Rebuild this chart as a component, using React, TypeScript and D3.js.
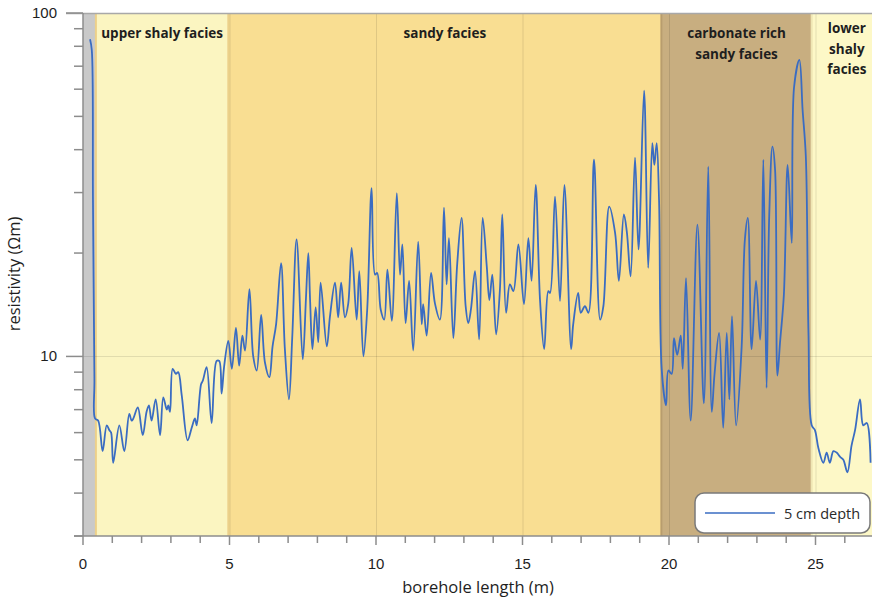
import React, { useEffect, useRef } from 'react';
import * as d3 from 'd3';

const depth = [
  0.24, 0.3, 0.34, 0.39, 0.41, 0.52, 0.67, 0.81, 0.9, 0.96, 1.03, 1.24, 1.41, 1.58, 1.66, 1.72, 1.87, 2.04, 2.17, 2.25,
  2.34, 2.48, 2.63, 2.74, 2.86, 2.91, 2.97, 3.06, 3.17, 3.25, 3.37, 3.57, 3.71, 3.82, 3.88, 4.03, 4.09, 4.22, 4.39, 4.56,
  4.65, 4.73, 4.82, 4.96, 5.08, 5.22, 5.33, 5.44, 5.53, 5.68, 5.81, 5.93, 6.08, 6.21, 6.36, 6.47, 6.59, 6.76, 6.89, 7.03,
  7.14, 7.29, 7.5, 7.61, 7.69, 7.75, 7.83, 7.94, 8.03, 8.11, 8.32, 8.43, 8.6, 8.71, 8.81, 8.94, 9.05, 9.17, 9.34, 9.43,
  9.57, 9.7, 9.85, 9.97, 10.04, 10.16, 10.28, 10.39, 10.54, 10.71, 10.82, 10.9, 11.01, 11.13, 11.27, 11.44, 11.56, 11.61, 11.73, 11.88,
  12.01, 12.18, 12.32, 12.41, 12.49, 12.64, 12.77, 12.92, 13.06, 13.15, 13.24, 13.38, 13.52, 13.64, 13.78, 13.87, 13.97, 14.1, 14.23, 14.31,
  14.44, 14.57, 14.69, 14.86, 15.05, 15.2, 15.31, 15.45, 15.6, 15.74, 15.88, 15.94, 16.11, 16.28, 16.43, 16.66, 16.73, 16.9, 16.99, 17.13,
  17.25, 17.44, 17.65, 17.76, 17.96, 18.16, 18.29, 18.46, 18.56, 18.69, 18.84, 18.96, 19.15, 19.29, 19.43, 19.5, 19.58, 19.66, 19.75, 19.9,
  19.98, 20.09, 20.17, 20.28, 20.4, 20.47, 20.58, 20.74, 20.97, 21.19, 21.34, 21.46, 21.55, 21.71, 21.85, 21.97, 22.06, 22.15, 22.29, 22.48,
  22.59, 22.69, 22.82, 22.97, 23.11, 23.22, 23.33, 23.42, 23.53, 23.62, 23.7, 23.79, 23.92, 24.05, 24.19, 24.27, 24.45, 24.56, 24.67, 24.76,
  24.87, 24.98, 25.1, 25.27, 25.38, 25.49, 25.61, 25.72, 25.84, 25.95, 26.09, 26.23, 26.35, 26.52, 26.63, 26.75, 26.88,
];
const resistivity = [
  83.9, 78, 28.6, 8.6, 6.6, 6.5, 5.3, 6.3, 6.1, 6.0, 4.9, 6.3, 5.3, 6.8, 6.5, 6.6, 7.1, 5.9, 6.9, 7.2,
  6.5, 7.5, 5.9, 7.6, 7.0, 7.2, 6.9, 9.2, 8.9, 9.0, 7.7, 5.7, 6.2, 6.6, 6.3, 8.3, 8.5, 9.3, 6.4, 9.7,
  9.7, 7.8, 9.4, 11.1, 9.2, 12.1, 9.4, 11.5, 10.4, 15.7, 10.0, 9.1, 13.2, 9.6, 8.7, 10.7, 12.4, 18.7, 10.5, 7.5,
  11.3, 21.9, 9.8, 14.8, 20.0, 14.6, 10.5, 13.9, 11.0, 16.4, 10.7, 13.1, 16.4, 13.0, 16.4, 13.0, 14.2, 20.7, 12.8, 17.7,
  10.0, 13.7, 30.9, 17.3, 17.5, 13.7, 12.8, 17.9, 12.7, 29.9, 17.3, 21.2, 12.5, 16.6, 10.4, 21.6, 12.4, 14.2, 11.5, 17.5,
  14.3, 12.8, 27.1, 16.2, 22.1, 11.3, 18.5, 25.3, 14.0, 12.5, 13.7, 17.7, 11.2, 25.3, 18.3, 14.6, 17.3, 11.6, 15.7, 25.9,
  13.4, 16.2, 15.5, 21.2, 14.2, 22.1, 16.6, 31.6, 14.5, 10.5, 15.5, 15.3, 29.2, 14.5, 31.6, 10.5, 12.4, 15.3, 13.4, 14.0,
  13.4, 37.4, 12.8, 14.0, 27.3, 22.9, 16.6, 25.9, 23.1, 17.1, 37.9, 20.5, 59.4, 18.1, 41.8, 36.1, 41.8, 28.6, 9.2, 7.2,
  9.1, 8.9, 11.3, 10.1, 11.5, 9.2, 16.9, 6.5, 24.2, 7.3, 35.7, 6.9, 8.8, 11.7, 6.2, 11.7, 7.5, 13.1, 6.3, 10.7,
  21.9, 25.3, 10.5, 16.6, 11.2, 37.4, 8.1, 25.6, 40.8, 35.0, 8.8, 11.0, 15.1, 36.1, 21.4, 61.0, 73.0, 52.2, 38.2, 11.7,
  6.3, 6.1, 5.4, 4.9, 5.25, 4.9, 5.3, 5.25, 5.1, 5.0, 4.6, 5.5, 6.1, 7.5, 6.3, 6.4, 4.9,
];

const faciesNames = ['', 'upper shaly facies', 'sandy facies', 'carbonate rich|sandy facies', 'lower|shaly|facies'];
const faciesFrom = [0, 0.44, 4.96, 19.74, 24.87];
const faciesTo = [0.44, 4.96, 19.74, 24.87, 27.2];

const xTickValues = [0, 5, 10, 15, 20, 25];
const yTickValues = [10, 100];
const seriesName = '5 cm depth';

const faciesColors = ['#c9c9c9', '#fbf5c1', '#f9de92', '#c8ae80', '#fdf8c7'];
const lineColor = '#3a6cc2';
const axisColor = '#8c8c8c';

const W = 872;
const H = 601;
const margin = { left: 83, top: 13, bottom: 65 };

export default function App() {
  const ref = useRef<SVGSVGElement>(null);

  useEffect(() => {
    document.body.style.margin = '0';
    document.body.style.overflow = 'hidden';

    const svg = d3.select(ref.current);
    svg.selectAll('*').remove();

    const bottom = H - margin.bottom;
    const x = d3.scaleLinear().domain([0, 27]).range([margin.left, margin.left + 27 * 29.3]);
    const y = d3.scaleLog().domain([3, 100]).range([bottom, margin.top]);

    // facies bands
    const bands = svg.append('g');
    faciesNames.forEach((name, i) => {
      bands.append('rect')
        .attr('x', x(faciesFrom[i]))
        .attr('y', margin.top)
        .attr('width', x(faciesTo[i]) - x(faciesFrom[i]))
        .attr('height', bottom - margin.top)
        .attr('fill', faciesColors[i]);
      if (i > 0) {
        bands.append('line')
          .attr('x1', x(faciesFrom[i])).attr('x2', x(faciesFrom[i]))
          .attr('y1', margin.top).attr('y2', bottom)
          .attr('stroke', i === 4 ? '#efe6b4' : i === 3 ? '#b89d6e' : '#ecd08a')
          .attr('stroke-width', 2);
      }
    });

    // grid lines
    const grid = svg.append('g').attr('stroke', 'rgba(0,0,0,0.1)').attr('stroke-width', 1);
    xTickValues.filter(d => d > 0).forEach(d => {
      grid.append('line')
        .attr('x1', x(d) + 0.5).attr('x2', x(d) + 0.5)
        .attr('y1', margin.top).attr('y2', bottom);
    });
    grid.append('line')
      .attr('x1', margin.left).attr('x2', W)
      .attr('y1', Math.round(y(10)) + 0.5).attr('y2', Math.round(y(10)) + 0.5);

    // top border
    svg.append('line')
      .attr('x1', 66).attr('x2', W)
      .attr('y1', margin.top + 0.5).attr('y2', margin.top + 0.5)
      .attr('stroke', '#a8a8a8').attr('stroke-width', 1.5);

    // facies labels
    const labels = svg.append('g')
      .attr('font-family', '"Open Sans", sans-serif')
      .attr('font-weight', 'bold')
      .attr('font-size', 13.5)
      .attr('fill', '#1e1e1e')
      .attr('text-anchor', 'middle');
    faciesNames.forEach((name, i) => {
      if (!name) return;
      const lines = name.split('|');
      const cx = (x(faciesFrom[i]) + Math.min(x(faciesTo[i]), W + 2)) / 2;
      const first = lines.length > 2 ? 33 : 38;
      lines.forEach((t, j) => {
        labels.append('text')
          .attr('x', cx + (i === 4 ? 4 : 0))
          .attr('y', first + j * 20.5)
          .text(t);
      });
    });

    // data line
    const pts = depth.map((d, i) => [d, resistivity[i]] as [number, number]);
    const line = d3.line<[number, number]>()
      .x(d => x(d[0]))
      .y(d => y(d[1]))
      .curve(d3.curveCatmullRom.alpha(0.5));
    svg.append('path')
      .datum(pts)
      .attr('d', line)
      .attr('fill', 'none')
      .attr('stroke', lineColor)
      .attr('stroke-width', 1.8)
      .attr('stroke-linejoin', 'round');

    // y axis
    const yAxis = svg.append('g').attr('stroke', axisColor).attr('stroke-width', 1.5);
    yAxis.append('line')
      .attr('x1', margin.left).attr('x2', margin.left)
      .attr('y1', margin.top).attr('y2', bottom);
    const minorY = d3.range(3, 10).concat(d3.range(20, 100, 10));
    minorY.forEach(v => {
      yAxis.append('line')
        .attr('x1', 74).attr('x2', margin.left)
        .attr('y1', y(v)).attr('y2', y(v));
    });
    yTickValues.forEach(v => {
      yAxis.append('line')
        .attr('x1', 66).attr('x2', margin.left)
        .attr('y1', y(v)).attr('y2', y(v));
    });
    svg.append('g')
      .attr('font-family', '"Liberation Sans", Arial, sans-serif')
      .attr('font-size', 15)
      .attr('fill', '#1e1e1e')
      .attr('text-anchor', 'end')
      .selectAll('text')
      .data(yTickValues)
      .enter()
      .append('text')
      .attr('x', 57)
      .attr('y', d => y(d) + 5)
      .text(d => d);

    // x axis
    const xAxis = svg.append('g').attr('stroke', axisColor).attr('stroke-width', 1.5);
    xAxis.append('line')
      .attr('x1', 74).attr('x2', W)
      .attr('y1', bottom).attr('y2', bottom);
    d3.range(0, 28).forEach(v => {
      const major = v % 5 === 0;
      xAxis.append('line')
        .attr('x1', x(v)).attr('x2', x(v))
        .attr('y1', bottom).attr('y2', bottom + (major ? 9 : 7));
    });
    svg.append('g')
      .attr('font-family', '"Liberation Sans", Arial, sans-serif')
      .attr('font-size', 15)
      .attr('fill', '#1e1e1e')
      .attr('text-anchor', 'middle')
      .selectAll('text')
      .data(xTickValues)
      .enter()
      .append('text')
      .attr('x', d => x(d))
      .attr('y', bottom + 33)
      .text(d => d);

    // axis titles
    svg.append('text')
      .attr('x', 478)
      .attr('y', 593)
      .attr('text-anchor', 'middle')
      .attr('font-family', '"Open Sans", sans-serif')
      .attr('font-size', 16.5)
      .attr('fill', '#1e1e1e')
      .text('borehole length (m)');
    svg.append('text')
      .attr('transform', `translate(20 ${274}) rotate(-90)`)
      .attr('text-anchor', 'middle')
      .attr('font-family', '"Open Sans", sans-serif')
      .attr('font-size', 16.5)
      .attr('fill', '#1e1e1e')
      .text('resistivity (\u03A9m)');

    // legend
    const legend = svg.append('g').attr('transform', 'translate(695 493)');
    legend.append('rect')
      .attr('width', 175).attr('height', 40)
      .attr('rx', 9)
      .attr('fill', '#fff')
      .attr('stroke', '#7a7a7a')
      .attr('stroke-width', 1.5);
    legend.append('line')
      .attr('x1', 10).attr('x2', 80)
      .attr('y1', 20).attr('y2', 20)
      .attr('stroke', lineColor)
      .attr('stroke-width', 1.6);
    legend.append('text')
      .attr('x', 89).attr('y', 25.5)
      .attr('font-family', '"Open Sans", sans-serif')
      .attr('font-size', 14.5)
      .attr('fill', '#2a2a2a')
      .text(seriesName);
  }, []);

  return (
    <div>
      <svg ref={ref} width={W} height={H} style={{ display: 'block' }} />
    </div>
  );
}
